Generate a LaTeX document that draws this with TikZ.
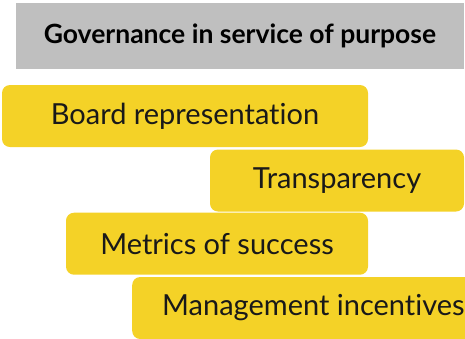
\documentclass[tikz,border=0pt]{standalone}
\usepackage{fontspec}
\setmainfont{Lato}[Ligatures={NoCommon}]
\usepackage{xcolor}
\usepackage{tikz}
\usetikzlibrary{positioning}

\definecolor{headgray}{HTML}{BFBFBF}
\definecolor{boxyellow}{HTML}{F4D227}

\begin{document}
\begin{tikzpicture}[
    x=1pt,y=-1pt,
    header/.style={fill=headgray, minimum width=448pt, minimum height=66pt, inner sep=0pt, align=center, font=\fontsize{26.5}{30}\selectfont\bfseries},
    item/.style={fill=boxyellow, rounded corners=8pt, minimum height=62pt, inner sep=0pt, align=center, text=black!90, font=\fontsize{29}{33}\selectfont}
  ]
    \useasboundingbox (0,0) rectangle (465,338);
    \clip (0,0) rectangle (465,338);
    \node[header] (title) at (240,36) {Governance in service of purpose};
    \node[item, minimum width=366pt] (board) at (185,116) {Board representation};
    \node[item, minimum width=254pt] (transp) at (337,180.5) {Transparency};
    \node[item, minimum width=302pt] (metrics) at (217,243.7) {Metrics of success};
    \node[item, anchor=west, inner xsep=30pt] (incent) at (132,308) {Management incentives};
  \end{tikzpicture}
\end{document}
